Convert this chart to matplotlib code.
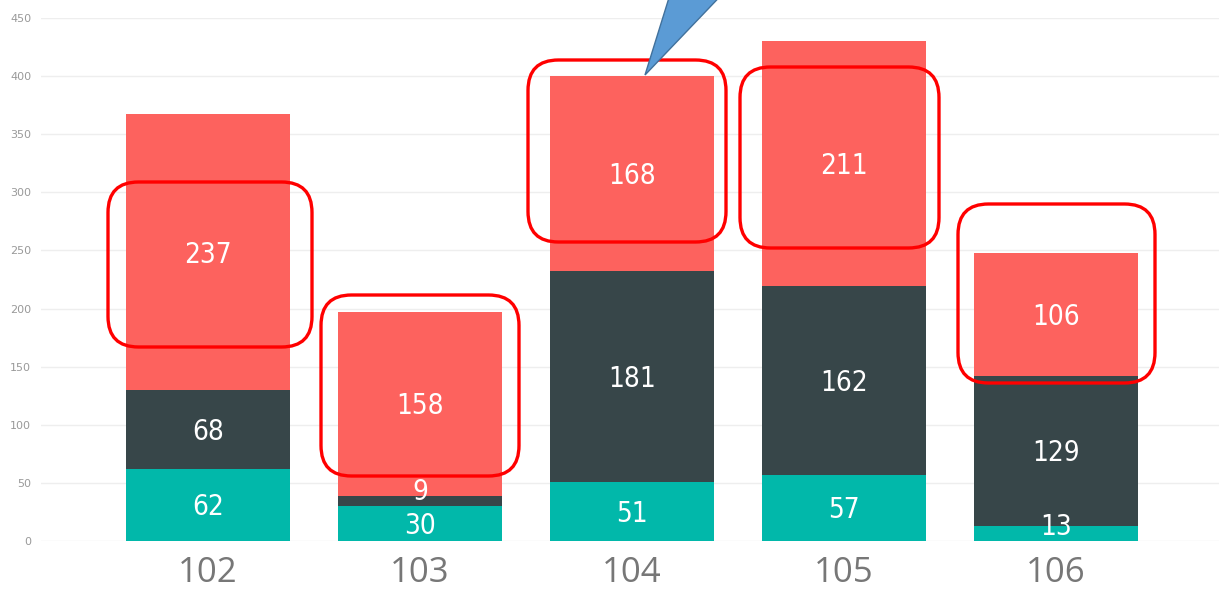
import matplotlib.pyplot as plt
from matplotlib.patches import FancyBboxPatch, Polygon
import numpy as np

categories = ['102', '103', '104', '105', '106']
teal_vals = [62, 30, 51, 57, 13]
dark_vals = [68, 9, 181, 162, 129]
red_vals = [237, 158, 168, 211, 106]
y_ticks = [0, 50, 100, 150, 200, 250, 300, 350, 400, 450]

teal = '#01B8AA'
dark = '#374649'
red = '#FD625E'

W, H = 1219, 593
fig = plt.figure(figsize=(W / 100, H / 100), dpi=100)
ax = fig.add_axes([41 / W, 52 / H, 1 - 41 / W, 523 / H])

x = np.arange(len(categories))
width = 0.774
teal_a = np.array(teal_vals)
dark_a = np.array(dark_vals)
red_a = np.array(red_vals)

ax.bar(x, teal_a, width, color=teal, zorder=2)
ax.bar(x, dark_a, width, bottom=teal_a, color=dark, zorder=2)
ax.bar(x, red_a, width, bottom=teal_a + dark_a, color=red, zorder=2)

lab_font = dict(color='white', fontsize=20, ha='center', va='center',
                family='DejaVu Sans', stretch='condensed', zorder=4)
for i in x:
    # small segments: keep the label inside the plot like Power BI does
    ax.text(i, max(teal_a[i] / 2 - 2, 12), str(teal_a[i]), **lab_font)
    ax.text(i, teal_a[i] + dark_a[i] / 2 + (8 if dark_a[i] < 15 else -2),
            str(dark_a[i]), **lab_font)
    ax.text(i, teal_a[i] + dark_a[i] + red_a[i] / 2 - 2, str(red_a[i]), **lab_font)

ax.set_xlim(-0.788, 4.769)
ax.set_ylim(0, 450)
ax.set_yticks(y_ticks)
ax.set_xticks(x)
ax.set_xticklabels(categories, fontsize=25, color='#777777', family='Open Sans')
ax.tick_params(axis='x', length=0, pad=11)
ax.tick_params(axis='y', length=0, labelsize=8, labelcolor='#999999', pad=7)
ax.yaxis.grid(True, color='#eeeeee', lw=1, zorder=0)
for s in ax.spines.values():
    s.set_visible(False)

# red rounded frames, in figure pixels (x0, y0 from top, x1, y1)
frames = [(108, 182, 312, 347), (321, 295, 519, 476), (528, 60, 726, 242),
          (740, 67, 939, 248), (958, 204, 1155, 383)]
for (x0, y0, x1, y1) in frames:
    box = FancyBboxPatch((x0 / W, 1 - y1 / H), (x1 - x0) / W, (y1 - y0) / H,
                         boxstyle='round,pad=0,rounding_size=0.025',
                         transform=fig.transFigure, fill=False,
                         ec='#FF0000', lw=2.4, zorder=5,
                         mutation_aspect=W / H)
    fig.patches.append(box)

# blue callout pointer
tri = Polygon([(645 / W, 1 - 75 / H), (672 / W, 1.02), (728 / W, 1.02)],
              closed=True, transform=fig.transFigure, fc='#5B9BD5',
              ec='#41719C', lw=1, zorder=6)
fig.patches.append(tri)

fig.savefig('out.png', dpi=100)
